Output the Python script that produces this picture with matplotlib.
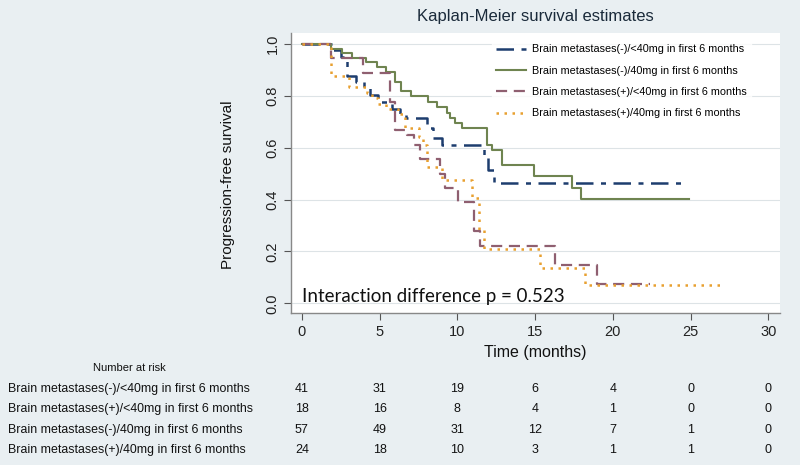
import matplotlib
matplotlib.use("Agg")
import matplotlib.pyplot as plt
from matplotlib import transforms

plt.rcParams['font.family'] = ['Liberation Sans', 'DejaVu Sans']

# Kaplan-Meier step curves (time in months, survival)
t_neg_lt40 = [0, 2.0, 2.5, 2.9, 3.5, 4.0, 4.4, 4.9, 5.8, 6.3, 6.7, 8.05, 8.4, 9.0,
              11.7, 12.0, 12.35, 24.6]
s_neg_lt40 = [1.0, 0.976, 0.951, 0.878, 0.854, 0.829, 0.805, 0.775, 0.75, 0.726,
              0.713, 0.675, 0.636, 0.61, 0.559, 0.514, 0.463, 0.463]

t_neg_40 = [0, 1.9, 2.6, 3.2, 4.1, 4.8, 5.4, 6.0, 6.4, 7.0, 8.14, 8.68, 9.32, 9.54,
            9.86, 10.29, 11.9, 12.22, 12.86, 14.9, 17.36, 17.96, 24.9]
s_neg_40 = [1.0, 0.982, 0.965, 0.947, 0.93, 0.912, 0.89, 0.855, 0.82, 0.80, 0.777,
            0.758, 0.733, 0.713, 0.694, 0.675, 0.61, 0.59, 0.533, 0.491, 0.443,
            0.401, 0.401]

t_pos_lt40 = [0, 1.9, 3.9, 5.64, 5.96, 6.75, 7.2, 7.6, 8.9, 9.2, 10.07, 11.04,
              11.47, 16.29, 18.97, 22.4]
s_pos_lt40 = [1.0, 0.944, 0.889, 0.778, 0.667, 0.65, 0.611, 0.556, 0.5, 0.444,
              0.389, 0.278, 0.222, 0.148, 0.074, 0.074]

t_pos_40 = [0, 1.9, 3.0, 4.2, 4.5, 4.9, 5.4, 6.2, 6.64, 7.5, 7.8, 8.04, 9.0, 10.93,
            11.36, 11.68, 15.3, 18.2, 27.2]
s_pos_40 = [1.0, 0.875, 0.833, 0.812, 0.79, 0.77, 0.75, 0.73, 0.675, 0.64, 0.61,
            0.527, 0.476, 0.405, 0.283, 0.209, 0.135, 0.069, 0.069]

labels = ['Brain metastases(-)/<40mg in first 6 months',
          'Brain metastases(-)/40mg in first 6 months',
          'Brain metastases(+)/<40mg in first 6 months',
          'Brain metastases(+)/40mg in first 6 months']

# Number at risk table
risk_times = [0, 5, 10, 15, 20, 25, 30]
risk_labels = ['Brain metastases(-)/<40mg in first 6 months',
               'Brain metastases(+)/<40mg in first 6 months',
               'Brain metastases(-)/40mg in first 6 months',
               'Brain metastases(+)/40mg in first 6 months']
risk_neg_lt40 = [41, 31, 19, 6, 4, 0, 0]
risk_pos_lt40 = [18, 16, 8, 4, 1, 0, 0]
risk_neg_40 = [57, 49, 31, 12, 7, 1, 0]
risk_pos_40 = [24, 18, 10, 3, 1, 1, 0]

BG = '#e9eff2'
fig = plt.figure(figsize=(8, 4.65), dpi=100, facecolor=BG)
ax = fig.add_axes([0.364, 0.327, 0.611, 0.602])
ax.set_facecolor('white')

ax.step(t_neg_lt40, s_neg_lt40, where='post', color='#1d3d6e', lw=1.8,
        dashes=(7, 3, 2, 3), label=labels[0])
ax.step(t_neg_40, s_neg_40, where='post', color='#6f8450', lw=1.5,
        label=labels[1])
ax.step(t_pos_lt40, s_pos_lt40, where='post', color='#8f5f70', lw=1.6,
        dashes=(5, 3), label=labels[2])
ax.step(t_pos_40, s_pos_40, where='post', color='#e8a030', lw=1.8,
        dashes=(1, 2.2), label=labels[3])

ax.set_xlim(-0.69, 30.75)
ax.set_ylim(-0.037, 1.042)
ax.set_xticks(risk_times)
ax.set_yticks([0.0, 0.2, 0.4, 0.6, 0.8, 1.0])
ax.set_yticklabels(['0.0', '0.2', '0.4', '0.6', '0.8', '1.0'], rotation=90,
                   va='center')
ax.tick_params(axis='both', labelsize=10.5, color='#555555', length=5,
               labelcolor='#222222')
ax.grid(axis='y', color='#dde3e6', lw=0.8)
ax.set_axisbelow(True)
for side in ['top', 'right']:
    ax.spines[side].set_visible(False)
for side in ['left', 'bottom']:
    ax.spines[side].set_color('#888888')
    ax.spines[side].set_linewidth(1.0)

leg = ax.legend(loc='upper left', bbox_to_anchor=(0.41, 0.975), frameon=True,
                fontsize=7.8, handlelength=2.8, labelspacing=1.05,
                borderaxespad=0, handletextpad=0.5)
leg.get_frame().set_facecolor('white')
leg.get_frame().set_edgecolor('white')

ax.text(0.0, 0.027, 'Interaction difference p = 0.523', fontsize=13.5,
        family=['Lato', 'DejaVu Sans'], ha='left', va='center',
        color='#111111')

fig.text(0.669, 0.965, 'Kaplan-Meier survival estimates', fontsize=12,
         ha='center', va='center', color='#1a2a3a')
fig.text(0.285, 0.602, 'Progression-free survival', fontsize=11, rotation=90,
         ha='center', va='center', color='#111111')
fig.text(0.669, 0.243, 'Time (months)', fontsize=11.5, ha='center', va='center',
         color='#111111')

# Number at risk table
fig.text(0.207, 0.209, 'Number at risk', fontsize=8, ha='right',
         va='center', color='#111111')
trans = transforms.blended_transform_factory(ax.transData, fig.transFigure)
row_y = [0.163, 0.120, 0.075, 0.032]
risk_rows = [risk_neg_lt40, risk_pos_lt40, risk_neg_40, risk_pos_40]
for y, lab, row in zip(row_y, risk_labels, risk_rows):
    fig.text(0.01, y, lab, fontsize=8.9, ha='left', va='center',
             color='#111111')
    for t, n in zip(risk_times, row):
        ax.text(t, y, str(n), transform=trans, fontsize=9, ha='center',
                va='center', color='#111111', clip_on=False)

fig.savefig('out.png', dpi=100, facecolor=BG)
